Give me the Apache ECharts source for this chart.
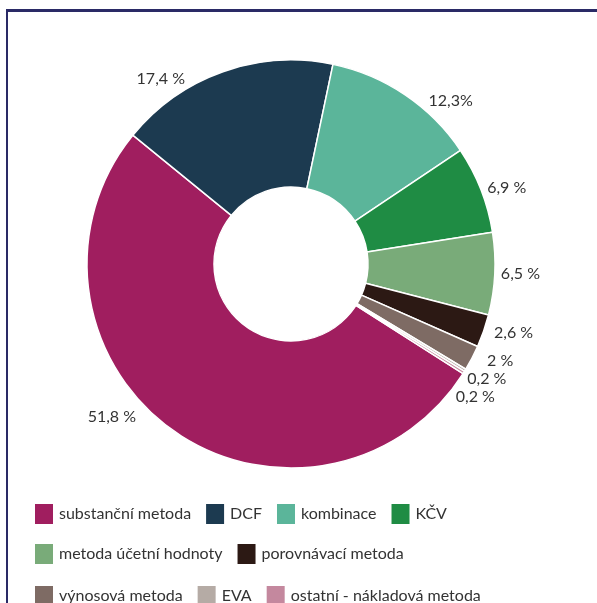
<!DOCTYPE html>
<html>
<head>
<meta charset="utf-8">
<script src="https://cdn.jsdelivr.net/npm/echarts@6/dist/echarts.min.js"></script>
<style>
html,body{margin:0;padding:0;background:#fff;}
#c{width:597px;height:603px;}
</style>
</head>
<body>
<div id="c"></div>
<script>
const categories = ["substanční metoda","DCF","kombinace","KČV","metoda účetní hodnoty","porovnávací metoda","výnosová metoda","EVA","ostatní - nákladová metoda"];
const values = [51.8,17.4,12.3,6.9,6.5,2.6,2,0.2,0.2];
const valueLabels = ["51,8 %","17,4 %","12,3%","6,9 %","6,5 %","2,6 %","2 %","0,2 %","0,2 %"];
const colors = ["#a01e5f","#1c3a50","#5bb59a","#1f8c44","#79ab79","#2c1914","#7e6b64","#b5aba5","#c4889e"];
const legendRows = [
  ["substanční metoda","DCF","kombinace","KČV"],
  ["metoda účetní hodnoty","porovnávací metoda"],
  ["výnosová metoda","EVA","ostatní - nákladová metoda"]
];
// label nudges (styling only)
const labelNudge = [[-27,-17],[-31,13],[15,11],[0,0],[0,0],[0,0],[0,0],[-13,-2],[-18,0]];

const chart = echarts.init(document.getElementById('c'), null, {renderer:'canvas'});
const font = 'Lato, "Open Sans", sans-serif';
const legendBase = {
  orient:'horizontal', left:28, itemWidth:20, itemHeight:22, itemGap:13,
  icon:'rect', selectedMode:false,
  textStyle:{fontFamily:font, fontSize:16, color:'#333'}
};
chart.setOption({
  animation:false,
  color: colors,
  legend: legendRows.map((row,i)=>Object.assign({}, legendBase, {data:row, top:[497,537,579][i]})),
  graphic:[
    {type:'rect', shape:{x:6,y:9,width:591,height:3}, style:{fill:'#2a2a66'}},
    {type:'rect', shape:{x:6,y:9,width:2,height:594}, style:{fill:'#2a2a66'}}
  ],
  series:[{
    type:'pie',
    center:[291,264],
    radius:[77,204],
    startAngle:-32.5,
    clockwise:true,
    avoidLabelOverlap:true,
    itemStyle:{borderColor:'#fff', borderWidth:1.5},
    label:{
      show:true, position:'outside',
      fontFamily:font, fontSize:16, color:'#333',
      formatter:(p)=>valueLabels[p.dataIndex]
    },
    labelLine:{show:false, length:6, length2:0},
    emphasis:{disabled:true},
    data: categories.map((c,i)=>({name:c, value:values[i], label:{offset:labelNudge[i]}}))
  }]
});
</script>
</body>
</html>
